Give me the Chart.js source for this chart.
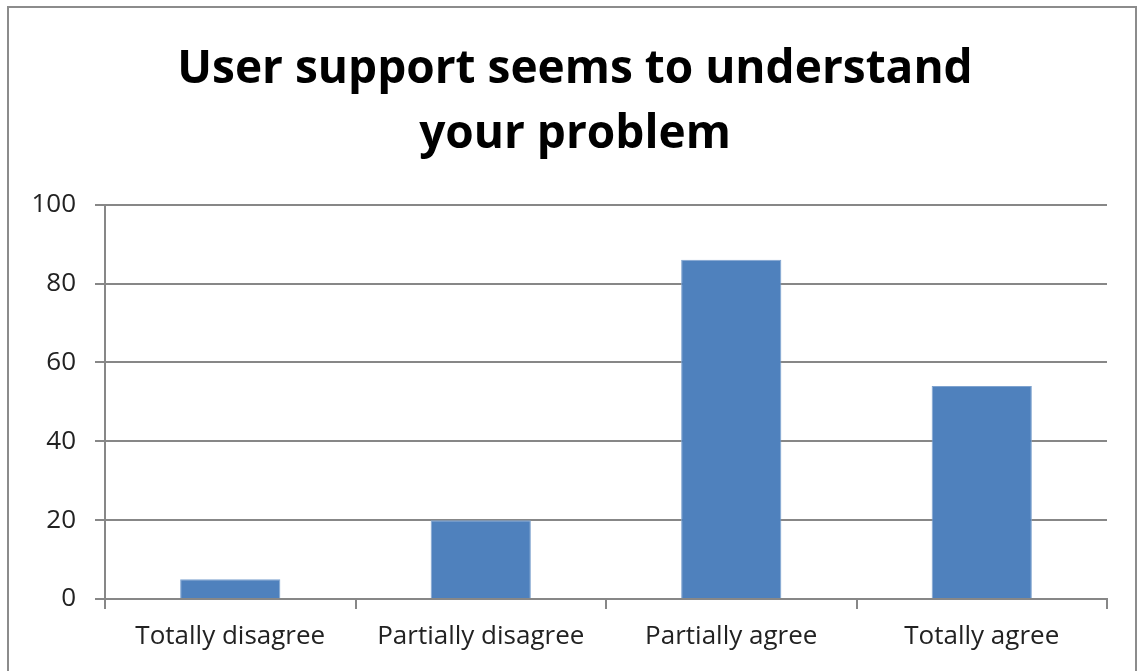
<!DOCTYPE html>
<html>
<head>
<meta charset="utf-8">
<script src="https://cdn.jsdelivr.net/npm/chart.js@4"></script>
<style>
    body { margin: 0; background: #fff; }
    #wrap { position: relative; width: 1140px; height: 671px; overflow: hidden; }
    #frame { position: absolute; left: 7px; top: 6px; width: 1130px; height: 700px; border: 2px solid #8c8c8c; box-sizing: border-box; }
    canvas { position: absolute; left: 0; top: 0; }
</style>
</head>
<body>
<div id="wrap">
    <div id="frame"></div>
    <canvas id="chart" width="1140" height="671"></canvas>
</div>
<script>
// 응답 분포
const titleLines = ['User support seems to understand', 'your problem'];
const answers = ['Totally disagree', 'Partially disagree', 'Partially agree', 'Totally agree'];
const counts = [5, 20, 86, 54];
const yTicks = [0, 20, 40, 60, 80, 100];

const axisGray = '#878787';
const labelFont = { family: "'Open Sans', sans-serif", size: 26 };

const ctx = document.getElementById('chart').getContext('2d');
new Chart(ctx, {
    type: 'bar',
    data: {
        labels: answers,
        datasets: [{
            data: counts,
            backgroundColor: '#4f81bd',
            borderColor: '#7fa3cf',
            borderWidth: 1,
            categoryPercentage: 1,
            barPercentage: 0.4
        }]
    },
    options: {
        responsive: false,
        animation: false,
        layout: { padding: { left: 10, right: 0, top: 0, bottom: 0 } },
        plugins: {
            legend: { display: false },
            tooltip: { enabled: false },
            title: {
                display: true,
                text: titleLines,
                color: '#000',
                font: { family: "'Open Sans', sans-serif", size: 46, weight: 'bold', lineHeight: 1.42 },
                padding: { top: 37, bottom: 37 }
            }
        },
        scales: {
            x: {
                grid: {
                    offset: true,
                    drawOnChartArea: false,
                    color: axisGray,
                    lineWidth: 2,
                    tickLength: 10
                },
                border: { color: axisGray, width: 2 },
                ticks: { color: '#222', font: labelFont, padding: 12, maxRotation: 0 },
                afterFit: function (scale) { scale.height = 72; }
            },
            y: {
                min: 0,
                max: 100,
                afterBuildTicks: function (scale) {
                    scale.ticks = yTicks.map(v => ({ value: v }));
                },
                grid: { color: axisGray, lineWidth: 2, tickLength: 10 },
                border: { color: axisGray, width: 2 },
                ticks: { color: '#222', font: labelFont, padding: 19 },
                afterFit: function (scale) { scale.width = 95; }
            },
            // 오른쪽 빈 여백 (보이지 않는 축)
            yRight: {
                position: 'right',
                min: 0,
                max: 100,
                grid: { display: false },
                border: { display: false },
                ticks: { display: false },
                afterFit: function (scale) { scale.width = 33; }
            }
        }
    }
});
</script>
</body>
</html>
